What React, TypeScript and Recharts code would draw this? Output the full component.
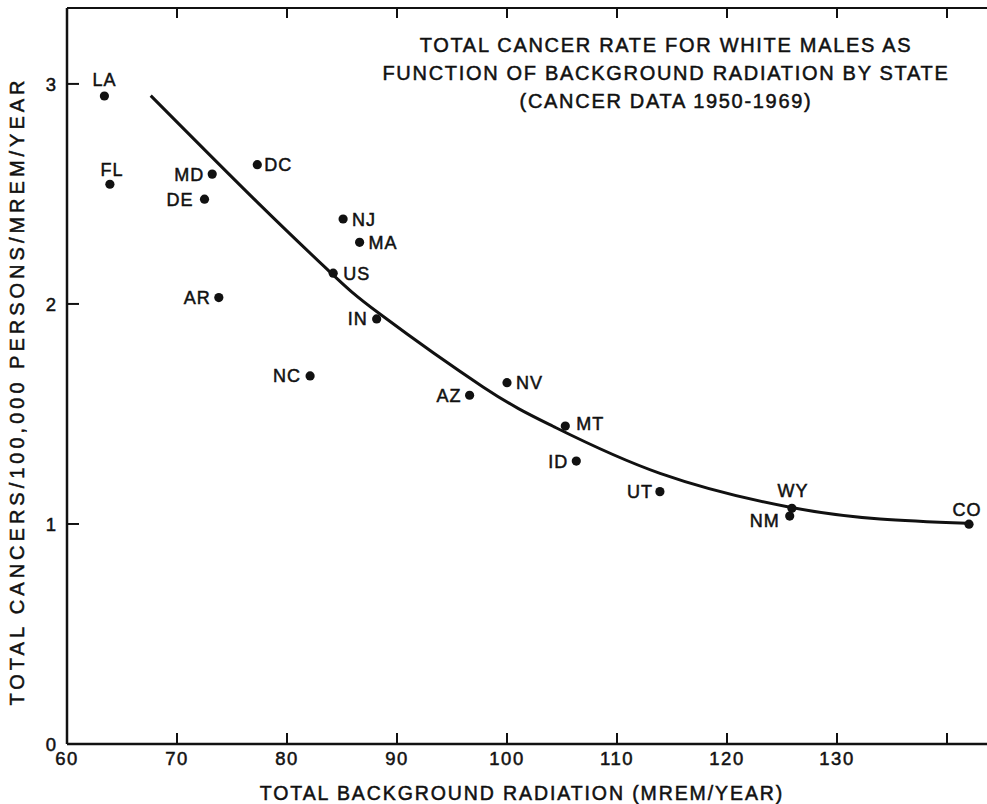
import React from 'react';
import { ComposedChart, XAxis, YAxis, Line, Scatter, Customized } from 'recharts';

// ---- data ----
const STATES = ['LA', 'FL', 'MD', 'DE', 'DC', 'AR', 'NJ', 'MA', 'US', 'IN', 'NC', 'NV', 'AZ', 'MT', 'ID', 'UT', 'WY', 'NM', 'CO'];
const RADIATION = [63.4, 63.9, 73.2, 72.5, 77.3, 73.8, 85.1, 86.6, 84.2, 88.15, 82.1, 100.0, 96.6, 105.3, 106.3, 113.9, 125.9, 125.7, 142.0];
const CANCER_RATE = [2.945, 2.544, 2.59, 2.476, 2.633, 2.029, 2.386, 2.28, 2.14, 1.932, 1.673, 1.642, 1.585, 1.445, 1.286, 1.147, 1.071, 1.036, 0.999];

const FIT_X = [67.61, 77.27, 83.91, 88.45, 97.82, 104.18, 113.91, 125.73, 133.91, 141.82];
const FIT_Y = [2.947, 2.464, 2.145, 1.954, 1.623, 1.444, 1.23, 1.076, 1.023, 1.003];

const X_TICKS = [60, 70, 80, 90, 100, 110, 120, 130, 140];
const X_TICK_LABELS = ['60', '70', '80', '90', '100', '110', '120', '130', ''];
const Y_TICKS = [0, 1, 2, 3];
const Y_TICK_LABELS = ['0', '1', '2', '3'];

const TITLE_LINES = [
  'TOTAL CANCER RATE FOR WHITE MALES AS',
  'FUNCTION OF BACKGROUND RADIATION BY STATE',
  '(CANCER DATA 1950-1969)',
];
const X_LABEL = 'TOTAL BACKGROUND RADIATION (MREM/YEAR)';
const Y_LABEL = 'TOTAL CANCERS/100,000 PERSONS/MREM/YEAR';

const STATE_DATA = STATES.map((s, i) => ({ x: RADIATION[i], y: CANCER_RATE[i], state: s }));
const FIT_DATA = FIT_X.map((x, i) => ({ x, y: FIT_Y[i] }));

// ---- styling ----
const FONT = '"Liberation Sans", Arial, sans-serif';
const INK = '#111';
const TEXT_STROKE = 0.5;

const LABEL_PLACE: Record<string, { anchor: 'start' | 'middle' | 'end'; dx: number; dy: number }> = {
  LA: { anchor: 'middle', dx: 0, dy: -16.5 },
  FL: { anchor: 'middle', dx: 2, dy: -15 },
  MD: { anchor: 'end', dx: -8, dy: 0 },
  DE: { anchor: 'end', dx: -11, dy: 0 },
  DC: { anchor: 'start', dx: 7, dy: 0 },
  AR: { anchor: 'end', dx: -8, dy: 0 },
  NJ: { anchor: 'start', dx: 9, dy: 0 },
  MA: { anchor: 'start', dx: 9, dy: 0 },
  US: { anchor: 'start', dx: 10, dy: 0 },
  IN: { anchor: 'end', dx: -9, dy: 0 },
  NC: { anchor: 'end', dx: -9, dy: 0 },
  NV: { anchor: 'start', dx: 9, dy: 0 },
  AZ: { anchor: 'end', dx: -8, dy: 0 },
  MT: { anchor: 'start', dx: 11, dy: -3 },
  ID: { anchor: 'end', dx: -8, dy: 0 },
  UT: { anchor: 'end', dx: -7, dy: 0 },
  WY: { anchor: 'middle', dx: 1, dy: -18 },
  NM: { anchor: 'end', dx: -10, dy: 4 },
  CO: { anchor: 'middle', dx: -2, dy: -15 },
};

const StateDot = (props: any) => {
  const { cx, cy, payload } = props;
  const p = LABEL_PLACE[payload.state] || { anchor: 'start', dx: 9, dy: 0 };
  return (
    <g>
      <circle cx={cx} cy={cy} r={4.6} fill={INK} />
      <text
        x={cx + p.dx}
        y={cy + p.dy + 6.5}
        textAnchor={p.anchor}
        fontSize={18}
        fontFamily={FONT}
        letterSpacing={1}
        fill={INK}
        stroke={INK}
        strokeWidth={TEXT_STROKE}
      >
        {payload.state}
      </text>
    </g>
  );
};

const BottomTick = (props: any) => {
  const { x, y, payload } = props;
  const i = X_TICKS.indexOf(payload.value);
  const label = i >= 0 ? X_TICK_LABELS[i] : '';
  return (
    <g>
      {i > 0 && <line x1={x} y1={y} x2={x} y2={y - 11} stroke={INK} strokeWidth={2} />}
      <text
        x={x}
        y={y + 21}
        textAnchor="middle"
        fontSize={18.5}
        fontFamily={FONT}
        letterSpacing={1.5}
        fill={INK}
        stroke={INK}
        strokeWidth={TEXT_STROKE}
      >
        {label}
      </text>
    </g>
  );
};

const TopTick = (props: any) => {
  const { x, y, payload } = props;
  if (payload.value === X_TICKS[0]) return <g />;
  return <line x1={x} y1={y} x2={x} y2={y + 10} stroke={INK} strokeWidth={2} />;
};

const LeftTick = (props: any) => {
  const { x, y, payload } = props;
  const i = Y_TICKS.indexOf(payload.value);
  const label = i >= 0 ? Y_TICK_LABELS[i] : '';
  return (
    <g>
      {i > 0 && <line x1={x} y1={y} x2={x + 12} y2={y} stroke={INK} strokeWidth={2} />}
      <text
        x={x - 11}
        y={y + 7}
        textAnchor="end"
        fontSize={18.5}
        fontFamily={FONT}
        fill={INK}
        stroke={INK}
        strokeWidth={TEXT_STROKE}
      >
        {label}
      </text>
    </g>
  );
};

const RightTick = (props: any) => {
  const { x, y, payload } = props;
  if (payload.value === Y_TICKS[0]) return <g />;
  return <line x1={x} y1={y} x2={x - 12} y2={y} stroke={INK} strokeWidth={2} />;
};

const Texts = () => (
  <g fontFamily={FONT} fill={INK} stroke={INK} strokeWidth={TEXT_STROKE}>
    {TITLE_LINES.map((t, i) => (
      <text key={i} x={666} y={52 + i * 28} textAnchor="middle" fontSize={20} letterSpacing={1.7}>
        {t}
      </text>
    ))}
    <text x={522} y={800} textAnchor="middle" fontSize={19.5} letterSpacing={1.9}>
      {X_LABEL}
    </text>
    <text
      x={0}
      y={0}
      transform="translate(24, 391) rotate(-90)"
      textAnchor="middle"
      fontSize={20}
      letterSpacing={4}
    >
      {Y_LABEL}
    </text>
  </g>
);

export default function App() {
  return (
    <div style={{ position: 'absolute', left: 0, top: 0, background: '#fff' }}>
      <ComposedChart width={987} height={804} margin={{ top: 0, right: 0, bottom: 0, left: 0 }}>
        <XAxis
          xAxisId="bottom"
          dataKey="x"
          type="number"
          orientation="bottom"
          domain={[60, 143.636]}
          allowDataOverflow
          ticks={X_TICKS}
          interval={0}
          height={60}
          tickSize={0}
          tickMargin={0}
          tick={<BottomTick />}
          axisLine={{ stroke: INK, strokeWidth: 2.5 }}
        />
        <XAxis
          xAxisId="top"
          dataKey="x"
          type="number"
          orientation="top"
          domain={[60, 143.636]}
          allowDataOverflow
          ticks={X_TICKS}
          interval={0}
          height={8}
          tickSize={0}
          tickMargin={0}
          tick={<TopTick />}
          axisLine={{ stroke: INK, strokeWidth: 2 }}
        />
        <YAxis
          yAxisId="left"
          type="number"
          orientation="left"
          domain={[0, 3.345]}
          allowDataOverflow
          ticks={Y_TICKS}
          interval={0}
          width={67}
          tickSize={0}
          tickMargin={0}
          tick={<LeftTick />}
          axisLine={{ stroke: INK, strokeWidth: 2.5 }}
        />
        <YAxis
          yAxisId="right"
          type="number"
          orientation="right"
          domain={[0, 3.345]}
          allowDataOverflow
          ticks={Y_TICKS}
          interval={0}
          width={0}
          tickSize={0}
          tickMargin={0}
          tick={<RightTick />}
          axisLine={false}
        />
        <Line
          xAxisId="bottom"
          yAxisId="left"
          data={FIT_DATA}
          dataKey="y"
          type="natural"
          stroke={INK}
          strokeWidth={3}
          dot={false}
          activeDot={false}
          isAnimationActive={false}
        />
        <Scatter
          xAxisId="bottom"
          yAxisId="left"
          data={STATE_DATA}
          dataKey="y"
          shape={<StateDot />}
          isAnimationActive={false}
        />
        <Customized component={Texts} />
      </ComposedChart>
    </div>
  );
}
